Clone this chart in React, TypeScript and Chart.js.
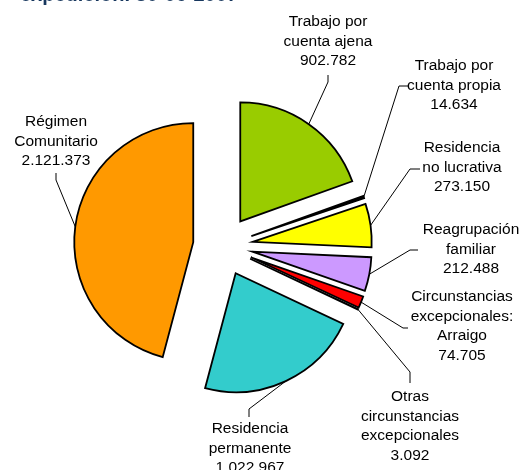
import React, { useEffect, useRef } from "react";
import { Chart, registerables } from "chart.js";

Chart.register(...registerables);

// ---- data ----
const categories: string[][] = [
  ["Trabajo por", "cuenta ajena"],
  ["Trabajo por", "cuenta propia"],
  ["Residencia", "no lucrativa"],
  ["Reagrupación", "familiar"],
  ["Circunstancias", "excepcionales:", "Arraigo"],
  ["Otras", "circunstancias", "excepcionales"],
  ["Residencia", "permanente"],
  ["Régimen", "Comunitario"],
];
const values: number[] = [902782, 14634, 273150, 212488, 74705, 3092, 1022967, 2121373];
const valueLabels: string[] = [
  "902.782",
  "14.634",
  "273.150",
  "212.488",
  "74.705",
  "3.092",
  "1.022.967",
  "2.121.373",
];
const titleText = "expedición. 30-06-2007";

// ---- styles / layout ----
const colors = ["#99CC00", "#000000", "#FFFF00", "#CC99FF", "#FF0000", "#9A9A9A", "#33CCCC", "#FF9900"];
const EXPLODE = 30;
const RADIUS = 119;
const LINE_H = 19.5;
const FONT = "15.5px 'Liberation Sans', Arial, sans-serif";
// label centre (first line) and leader-line elbow points, from the arc anchor outwards
const labelLayout: { x: number; y: number; path: number[][] }[] = [
  { x: 328, y: 22, path: [[328, 82], [328, 75]] },
  { x: 454, y: 66, path: [[399, 86], [408, 86]] },
  { x: 462, y: 148, path: [[410, 169], [420, 169]] },
  { x: 471, y: 230, path: [[410, 250], [418, 250]] },
  { x: 462, y: 297, path: [[403, 328], [408, 328]] },
  { x: 410, y: 397, path: [[410, 372], [410, 383]] },
  { x: 250, y: 429, path: [[249, 409], [249, 417]] },
  { x: 56, y: 122, path: [[56, 180], [56, 173]] },
];

const explodePlugin = {
  id: "explodeAndLabels",
  afterDatasetsUpdate(chart: any) {
    const meta = chart.getDatasetMeta(0);
    meta.data.forEach((arc: any) => {
      const mid = (arc.startAngle + arc.endAngle) / 2;
      arc.x += Math.cos(mid) * EXPLODE;
      arc.y += Math.sin(mid) * EXPLODE;
    });
  },
  afterDatasetsDraw(chart: any) {
    const ctx: CanvasRenderingContext2D = chart.ctx;
    const meta = chart.getDatasetMeta(0);
    ctx.save();
    meta.data.forEach((arc: any, i: number) => {
      const lay = labelLayout[i];
      const mid = (arc.startAngle + arc.endAngle) / 2;
      const ax = arc.x + Math.cos(mid) * arc.outerRadius;
      const ay = arc.y + Math.sin(mid) * arc.outerRadius;
      ctx.beginPath();
      ctx.strokeStyle = "#000";
      ctx.lineWidth = 1;
      ctx.moveTo(ax, ay);
      lay.path.forEach((p) => ctx.lineTo(p[0], p[1]));
      ctx.stroke();
      ctx.fillStyle = "#000";
      ctx.font = FONT;
      ctx.textAlign = "center";
      ctx.textBaseline = "middle";
      const lines = [...categories[i], valueLabels[i]];
      lines.forEach((t, k) => ctx.fillText(t, lay.x, lay.y + k * LINE_H));
    });
    ctx.restore();
  },
};

export default function App() {
  const ref = useRef<HTMLCanvasElement | null>(null);
  useEffect(() => {
    if (!ref.current) return;
    const chart = new Chart(ref.current, {
      type: "pie",
      data: {
        labels: categories.map((c) => c.join(" ")),
        datasets: [
          {
            data: values,
            backgroundColor: colors,
            borderColor: "#000",
            borderWidth: 1.8,
            borderJoinStyle: "miter",
            radius: RADIUS,
            hoverOffset: 0,
          } as any,
        ],
      },
      options: {
        responsive: false,
        animation: false,
        layout: { padding: { left: 0, right: 74, top: 22, bottom: 0 } },
        plugins: {
          legend: { display: false },
          tooltip: { enabled: false },
          title: { display: false },
        },
        events: [],
      },
      plugins: [explodePlugin],
    });
    return () => chart.destroy();
  }, []);

  return (
    <div
      style={{
        position: "fixed",
        left: 0,
        top: 0,
        width: 520,
        height: 470,
        overflow: "hidden",
        background: "#fff",
      }}
    >
      <canvas ref={ref} width={520} height={470} style={{ position: "absolute", left: 0, top: 0, width: 520, height: 470 }} />
      <div
        style={{
          position: "absolute",
          left: 20,
          top: -16,
          fontFamily: "'Liberation Sans', Arial, sans-serif",
          fontWeight: "bold",
          fontSize: 20,
          lineHeight: "20px",
          color: "#17375E",
          whiteSpace: "nowrap",
        }}
      >
        {titleText}
      </div>
    </div>
  );
}
